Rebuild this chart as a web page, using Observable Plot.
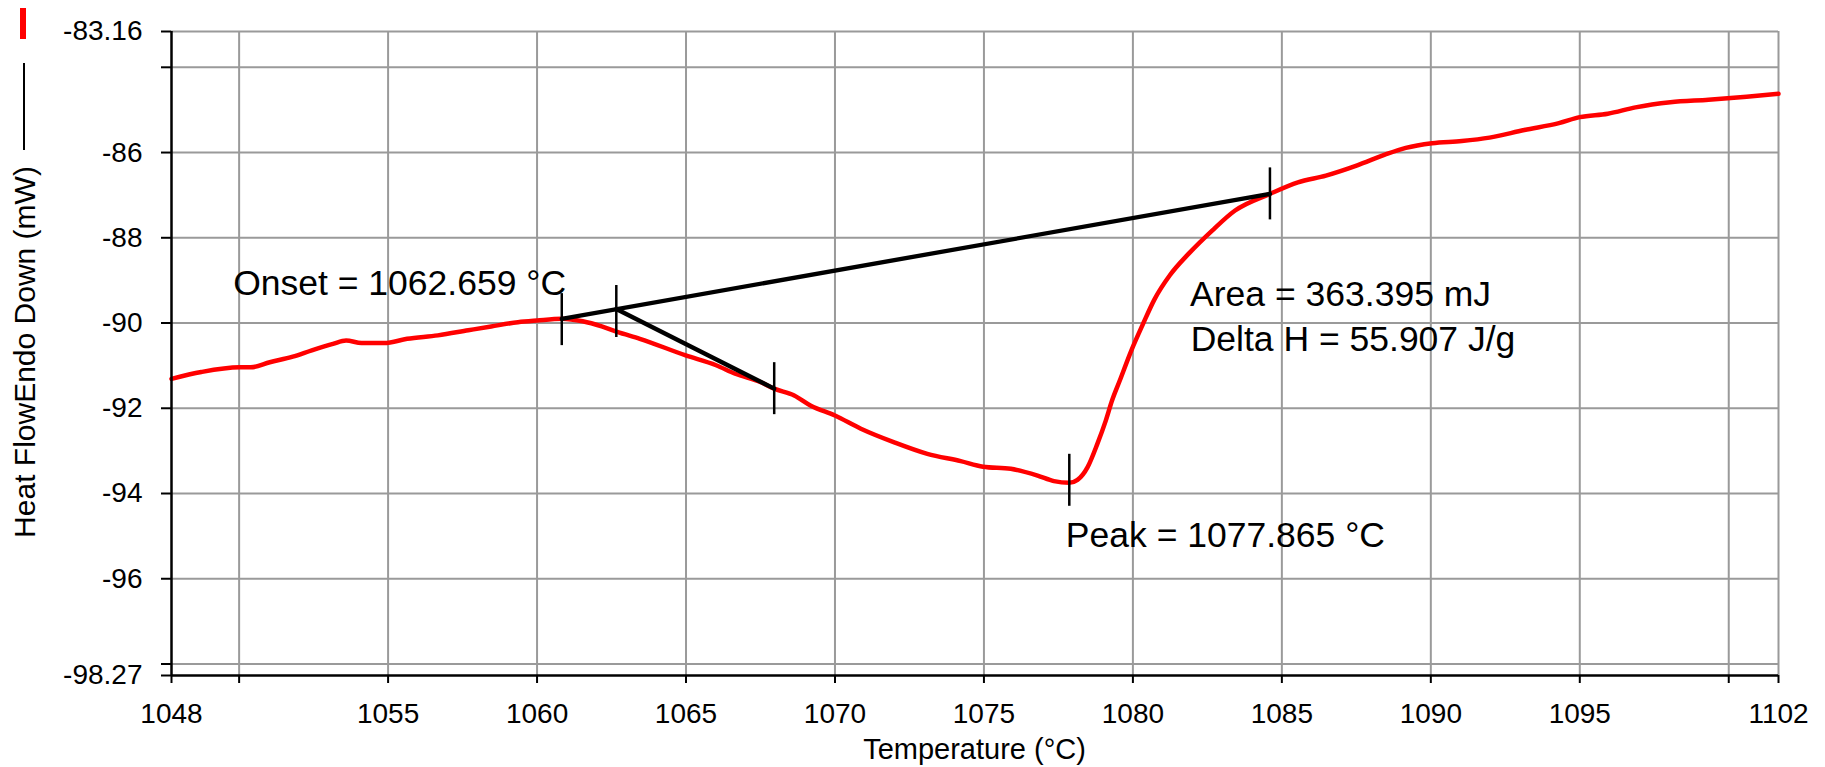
<!DOCTYPE html>
<html><head><meta charset="utf-8">
<script src="https://cdn.jsdelivr.net/npm/d3@7"></script>
<script src="https://cdn.jsdelivr.net/npm/@observablehq/plot@0.6"></script>
<style>
html,body{margin:0;padding:0;background:#fff;}
#chart{width:1825px;height:767px;overflow:hidden;}
</style></head>
<body><div id="chart"></div>
<script>
// ---- data ----
const temperature = [1047.73,1048.73,1050.01,1050.39,1051.03,1051.80,1052.44,1053.15,1053.59,1054.11,1054.87,1055.64,1056.67,1057.69,1058.46,1059.36,1060.00,1060.83,1061.53,1062.17,1062.69,1063.45,1064.99,1066.01,1066.65,1067.51,1067.96,1068.63,1069.19,1070.00,1070.87,1071.99,1073.10,1074.22,1074.97,1075.90,1076.80,1077.35,1077.86,1078.14,1078.48,1078.81,1079.09,1079.30,1079.56,1079.95,1080.34,1080.72,1081.24,1081.89,1082.66,1083.43,1084.60,1085.54,1086.48,1087.53,1088.46,1089.16,1090.04,1091.04,1091.97,1093.14,1094.30,1095.00,1095.94,1096.87,1098.04,1099.32,1100.60,1101.67];
const heatFlow = [-91.31,-91.15,-91.04,-91.04,-90.92,-90.79,-90.64,-90.49,-90.41,-90.47,-90.47,-90.37,-90.29,-90.17,-90.08,-89.98,-89.94,-89.90,-89.96,-90.08,-90.21,-90.37,-90.76,-90.99,-91.19,-91.39,-91.54,-91.70,-91.94,-92.17,-92.48,-92.80,-93.07,-93.24,-93.37,-93.42,-93.58,-93.71,-93.75,-93.68,-93.38,-92.83,-92.29,-91.82,-91.35,-90.64,-90.02,-89.45,-88.88,-88.36,-87.83,-87.36,-86.97,-86.70,-86.54,-86.30,-86.05,-85.89,-85.78,-85.73,-85.65,-85.47,-85.31,-85.17,-85.09,-84.94,-84.82,-84.76,-84.69,-84.62];

const baselineT = [1060.83, 1084.60];
const baselineV = [-89.90, -86.97];
const tangentT = [1062.66, 1067.96];
const tangentV = [-89.67, -91.54];

const markerT = [1060.83, 1062.66, 1067.96, 1084.60, 1077.865];
const markerV = [-89.92, -89.73, -91.54, -86.97, -93.69];
const markerHalf = 0.61;

const noteText = ["Onset = 1062.659 °C", "Area = 363.395 mJ", "Delta H = 55.907 J/g", "Peak = 1077.865 °C"];
const noteT = [1049.80, 1081.92, 1081.94, 1077.75];
const noteV = [-89.338, -89.612, -90.645, -95.244];

const xDomain = [1047.73, 1101.67];
const yDomain = [-98.27, -83.16];
const xTicks = [1047.73, 1050, 1055, 1060, 1065, 1070, 1075, 1080, 1085, 1090, 1095, 1100, 1101.67];
const xTickLabels = ["1048", "", "1055", "1060", "1065", "1070", "1075", "1080", "1085", "1090", "1095", "", "1102"];
const yTicks = [-83.16, -84, -86, -88, -90, -92, -94, -96, -98, -98.27];
const yTickLabels = ["-83.16", "", "-86", "-88", "-90", "-92", "-94", "-96", "", "-98.27"];
const xGrid = [1050, 1055, 1060, 1065, 1070, 1075, 1080, 1085, 1090, 1095, 1100, 1101.67];
const yGrid = [-83.16, -84, -86, -88, -90, -92, -94, -96, -98];

const xLabel = "Temperature (°C)";
const yLabel = "Heat FlowEndo Down (mW)";

// ---- tables ----
const curve = temperature.map((t, i) => ({t, v: heatFlow[i]}));
const baseline = baselineT.map((t, i) => ({t, v: baselineV[i]}));
const tangent = tangentT.map((t, i) => ({t, v: tangentV[i]}));
const markers = markerT.map((t, i) => ({t, v1: markerV[i] - markerHalf, v2: markerV[i] + markerHalf}));
const notes = noteText.map((s, i) => ({s, t: noteT[i], v: noteV[i]}));
const xLab = new Map(xTicks.map((d, i) => [d, xTickLabels[i]]));
const yLab = new Map(yTicks.map((d, i) => [d, yTickLabels[i]]));

const W = 1825, H = 767;
const M = {left: 171, right: 47, top: 31, bottom: 92};
const font = "'Liberation Sans', Arial, sans-serif";

const plot = Plot.plot({
  width: W, height: H,
  marginLeft: M.left, marginRight: M.right, marginTop: M.top, marginBottom: M.bottom,
  style: {fontFamily: font, background: "white", color: "black", overflow: "visible"},
  x: {domain: xDomain},
  y: {domain: yDomain},
  marks: [
    Plot.ruleX(xGrid, {stroke: "#9a9a9a", strokeWidth: 2}),
    Plot.ruleY(yGrid, {stroke: "#9a9a9a", strokeWidth: 2}),
    Plot.line(curve, {x: "t", y: "v", stroke: "#ff0000", strokeWidth: 4.5, strokeLinejoin: "round", curve: "monotone-x"}),
    Plot.line(baseline, {x: "t", y: "v", stroke: "black", strokeWidth: 4.3}),
    Plot.line(tangent, {x: "t", y: "v", stroke: "black", strokeWidth: 4.3}),
    Plot.ruleX(markers, {x: "t", y1: "v1", y2: "v2", stroke: "black", strokeWidth: 2.5}),
    Plot.text(notes, {x: "t", y: "v", text: "s", textAnchor: "start", lineAnchor: "bottom", fontSize: 35.5, fill: "black"}),
    Plot.axisX({ticks: xTicks, tickFormat: d => xLab.get(d), tickSize: 8, tickPadding: 20, fontSize: 28, strokeWidth: 2, label: null}),
    Plot.axisY({ticks: yTicks, tickFormat: d => yLab.get(d), tickSize: 10, tickPadding: 19, fontSize: 28, strokeWidth: 2, label: null}),
    Plot.ruleX([xDomain[0]], {stroke: "black", strokeWidth: 2.5}),
    Plot.ruleY([yDomain[0]], {stroke: "black", strokeWidth: 2.5})
  ]
});

document.getElementById("chart").appendChild(plot);

// axis titles and legend swatches
const svg = d3.select(plot);
svg.append("text")
  .attr("x", (M.left + W - M.right) / 2).attr("y", 759)
  .attr("text-anchor", "middle").attr("font-family", font).attr("font-size", 29)
  .attr("fill", "black").text(xLabel);
svg.append("text")
  .attr("transform", `translate(35,352) rotate(-90)`)
  .attr("text-anchor", "middle").attr("font-family", font).attr("font-size", 30)
  .attr("fill", "black").text(yLabel);
svg.append("rect").attr("x", 20).attr("y", 8).attr("width", 6).attr("height", 31).attr("fill", "#ff0000");
svg.append("line").attr("x1", 24).attr("x2", 24).attr("y1", 63).attr("y2", 150)
  .attr("stroke", "black").attr("stroke-width", 2);
</script>
</body></html>
